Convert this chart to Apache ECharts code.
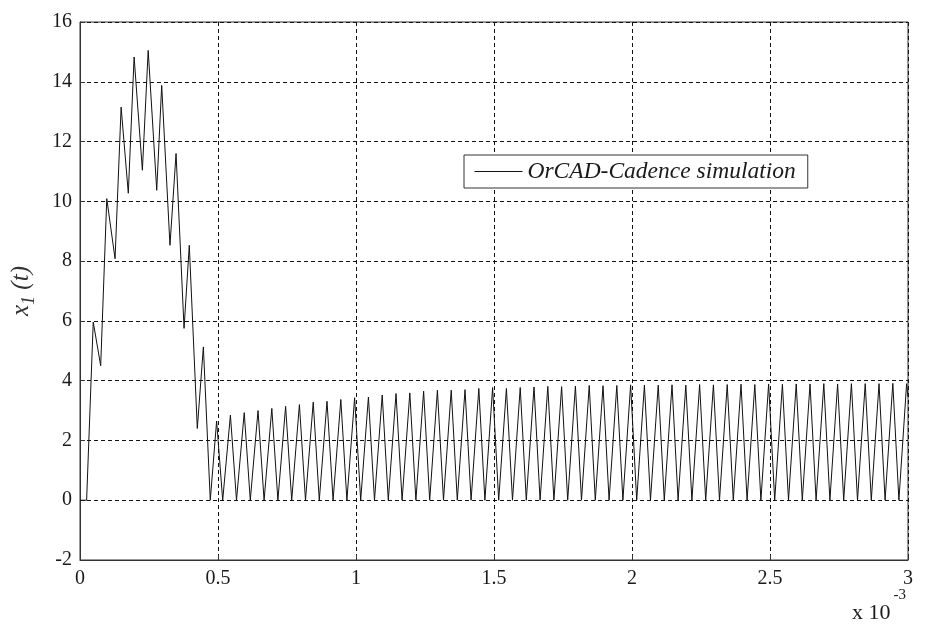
<!DOCTYPE html>
<html>
<head>
<meta charset="utf-8">
<title>x1(t) OrCAD-Cadence simulation</title>
<script src="https://cdn.jsdelivr.net/npm/echarts@6/dist/echarts.min.js"></script>
<style>
  html, body { margin: 0; padding: 0; background: #fff; }
  #chart { width: 932px; height: 630px; }
</style>
</head>
<body>
<div id="chart"></div>
<script>
// time in units of 10^-3 s, value of x1(t)
const startupTrace = [
  [0, 0], [0.024, 0], [0.048, 5.96], [0.075, 4.5], [0.097, 10.09], [0.127, 8.08],
  [0.149, 13.15], [0.175, 10.27], [0.196, 14.83], [0.226, 11.04], [0.247, 15.05],
  [0.278, 10.37], [0.296, 13.88], [0.326, 8.53], [0.348, 11.6], [0.377, 5.75],
  [0.396, 8.53], [0.425, 2.4], [0.447, 5.13], [0.472, 0], [0.477, 0]
];

// peak, then fall to 0 and short flat bottom, for each cycle
const steadyTrace = [
  [0.495, 2.65], [0.517, 0], [0.523, 0], [0.545, 2.85], [0.567, 0], [0.573, 0],
  [0.595, 2.93], [0.617, 0], [0.623, 0], [0.645, 3.0], [0.667, 0], [0.673, 0],
  [0.695, 3.07], [0.717, 0], [0.723, 0], [0.745, 3.14], [0.767, 0], [0.773, 0],
  [0.795, 3.2], [0.817, 0], [0.823, 0], [0.845, 3.28], [0.867, 0], [0.873, 0],
  [0.895, 3.31], [0.917, 0], [0.923, 0], [0.945, 3.37], [0.967, 0], [0.973, 0],
  [0.995, 3.43], [1.017, 0], [1.023, 0], [1.045, 3.45], [1.067, 0], [1.073, 0],
  [1.095, 3.52], [1.117, 0], [1.123, 0], [1.145, 3.57], [1.167, 0], [1.173, 0],
  [1.195, 3.59], [1.217, 0], [1.223, 0], [1.245, 3.65], [1.267, 0], [1.273, 0],
  [1.295, 3.68], [1.317, 0], [1.323, 0], [1.345, 3.68], [1.367, 0], [1.373, 0],
  [1.395, 3.7], [1.417, 0], [1.423, 0], [1.445, 3.74], [1.467, 0], [1.473, 0],
  [1.495, 3.77], [1.517, 0], [1.523, 0], [1.545, 3.74], [1.567, 0], [1.573, 0],
  [1.595, 3.77], [1.617, 0], [1.623, 0], [1.645, 3.79], [1.667, 0], [1.673, 0],
  [1.695, 3.81], [1.717, 0], [1.723, 0], [1.745, 3.8], [1.767, 0], [1.773, 0],
  [1.795, 3.82], [1.817, 0], [1.823, 0], [1.845, 3.84], [1.867, 0], [1.873, 0],
  [1.895, 3.83], [1.917, 0], [1.923, 0], [1.945, 3.84], [1.967, 0], [1.973, 0],
  [1.995, 3.86], [2.017, 0], [2.023, 0], [2.045, 3.85], [2.067, 0], [2.073, 0],
  [2.095, 3.85], [2.117, 0], [2.123, 0], [2.145, 3.86], [2.167, 0], [2.173, 0],
  [2.195, 3.85], [2.217, 0], [2.223, 0], [2.245, 3.87], [2.267, 0], [2.273, 0],
  [2.295, 3.86], [2.317, 0], [2.323, 0], [2.345, 3.87], [2.367, 0], [2.373, 0],
  [2.395, 3.88], [2.417, 0], [2.423, 0], [2.445, 3.87], [2.467, 0], [2.473, 0],
  [2.495, 3.89], [2.517, 0], [2.523, 0], [2.545, 3.88], [2.567, 0], [2.573, 0],
  [2.595, 3.89], [2.617, 0], [2.623, 0], [2.645, 3.89], [2.667, 0], [2.673, 0],
  [2.695, 3.9], [2.717, 0], [2.723, 0], [2.745, 3.89], [2.767, 0], [2.773, 0],
  [2.795, 3.9], [2.817, 0], [2.823, 0], [2.845, 3.9], [2.867, 0], [2.873, 0],
  [2.895, 3.9], [2.917, 0], [2.923, 0], [2.945, 3.91], [2.967, 0], [2.973, 0],
  [2.995, 3.9], [3.0, 3.45]
];

const seriesName = "OrCAD-Cadence simulation";
const xRange = [0, 3];
const yRange = [-2, 16];

const serif = "Liberation Serif";
const ink = "#1a1a1a";

const chart = echarts.init(document.getElementById("chart"));

const gridLine = {
  show: true,
  lineStyle: { color: "#111", width: 1, type: [4, 3] },
};

const option = {
  animation: false,
  backgroundColor: "#fff",
  grid: {
    left: 80,
    right: 24,
    top: 22,
    bottom: 70,
    outerBoundsMode: "none",
    show: true,
    borderColor: "#333",
    borderWidth: 1,
  },
  legend: {
    data: [seriesName],
    left: 464,
    top: 155,
    backgroundColor: "#fff",
    borderColor: "#333",
    borderWidth: 1,
    borderRadius: 0,
    padding: [5, 12, 5, 10],
    itemWidth: 48,
    itemHeight: 14,
    itemGap: 6,
    itemStyle: { opacity: 0 },
    lineStyle: { color: "#111", width: 1, opacity: 1 },
    textStyle: {
      fontFamily: serif,
      fontStyle: "italic",
      fontSize: 23.5,
      color: ink,
    },
  },
  xAxis: {
    type: "value",
    min: xRange[0],
    max: xRange[1],
    interval: 0.5,
    axisLine: { onZero: false, lineStyle: { color: "#333" } },
    axisTick: { inside: true, length: 5, lineStyle: { color: "#333" } },
    axisLabel: { fontFamily: serif, fontSize: 20, color: ink, margin: 9 },
    splitLine: gridLine,
  },
  yAxis: {
    type: "value",
    min: yRange[0],
    max: yRange[1],
    interval: 2,
    name: "{i|x}{s|1}{i| (t)}",
    nameLocation: "middle",
    nameGap: 42,
    nameRotate: 90,
    nameTextStyle: {
      padding: [0, 0, 0, 0],
      rich: {
        i: {
          fontFamily: serif,
          fontStyle: "italic",
          fontSize: 25,
          color: "#333",
          lineHeight: 34,
          verticalAlign: "middle",
        },
        s: {
          fontFamily: serif,
          fontStyle: "italic",
          fontSize: 18,
          color: "#333",
          lineHeight: 34,
          verticalAlign: "bottom",
        },
      },
    },
    axisLine: { onZero: false, lineStyle: { color: "#333" } },
    axisTick: { inside: true, length: 5, lineStyle: { color: "#333" } },
    axisLabel: { fontFamily: serif, fontSize: 20, color: ink, margin: 8 },
    splitLine: gridLine,
  },
  graphic: [
    {
      type: "text",
      left: 852,
      top: 588,
      style: {
        text: "{b|x 10}{s|-3}",
        rich: {
          b: {
            fontFamily: serif,
            fontSize: 22,
            fill: ink,
            lineHeight: 36,
            verticalAlign: "bottom",
          },
          s: {
            fontFamily: serif,
            fontSize: 15,
            fill: ink,
            lineHeight: 36,
            verticalAlign: "top",
            padding: [0, 0, 0, 3],
          },
        },
      },
    },
  ],
  series: [
    {
      name: seriesName,
      type: "line",
      data: startupTrace.concat(steadyTrace),
      symbol: "none",
      lineStyle: { color: "#111", width: 1 },
    },
  ],
};

chart.setOption(option);
</script>
</body>
</html>
